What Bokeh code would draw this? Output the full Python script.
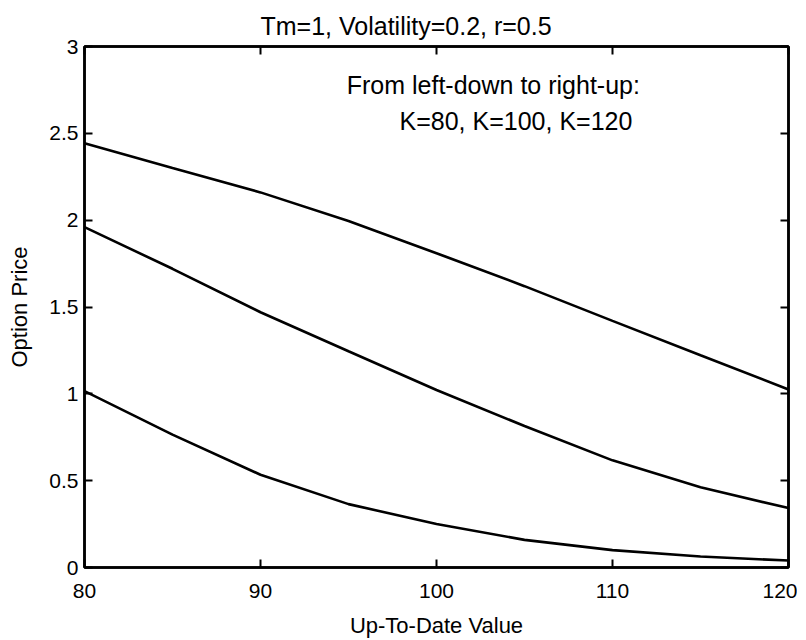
from bokeh.plotting import figure
from bokeh.models import LinearAxis, Range1d, Label, Title, FixedTicker
from bokeh.embed import file_html
from bokeh.resources import INLINE

# Data
x_vals = [80, 85, 90, 95, 100, 105, 110, 115, 120]
k80 = [1.016, 0.765, 0.534, 0.365, 0.250, 0.159, 0.100, 0.063, 0.040]
k100 = [1.960, 1.720, 1.470, 1.245, 1.022, 0.815, 0.617, 0.462, 0.342]
k120 = [2.443, 2.300, 2.160, 1.995, 1.810, 1.620, 1.420, 1.222, 1.025]
x_ticks = [80, 90, 100, 110, 120]
y_ticks = [0, 0.5, 1, 1.5, 2, 2.5, 3]

FONT = "Liberation Sans"

p = figure(frame_width=704, frame_height=521,
           x_range=Range1d(80, 120), y_range=Range1d(0, 3),
           output_backend="svg", toolbar_location=None,
           min_border_left=84, min_border_right=9,
           min_border_top=46, min_border_bottom=62)
p.title = None
p.grid.visible = False
p.outline_line_color = "black"
p.outline_line_width = 2.5
p.background_fill_color = "white"
p.border_fill_color = "white"

for ys in (k80, k100, k120):
    p.line(x_vals, ys, line_color="black", line_width=2.6)

def style(ax, show_labels=True):
    ax.axis_line_color = "black"
    ax.axis_line_width = 2.5
    ax.major_tick_in = 8
    ax.major_tick_out = 0
    ax.major_tick_line_width = 2
    ax.minor_tick_line_color = None
    ax.major_label_text_font = FONT
    ax.major_label_text_color = "black"
    ax.axis_label_text_font = FONT
    ax.axis_label_text_font_style = "normal"
    ax.axis_label_text_color = "black"
    ax.major_label_text_font_size = "21px"
    ax.axis_label_text_font_size = "22px"
    if not show_labels:
        ax.major_label_standoff = 0

p.xaxis.ticker = FixedTicker(ticks=x_ticks)
p.yaxis.ticker = FixedTicker(ticks=y_ticks)
p.yaxis.major_label_overrides = {0: "0", 0.5: "0.5", 1: "1", 1.5: "1.5", 2: "2", 2.5: "2.5", 3: "3"}
p.xaxis.axis_label = "Up-To-Date Value"
p.yaxis.axis_label = "Option Price"
style(p.xaxis[0])
style(p.yaxis[0])
p.xaxis.major_label_standoff = 16
p.yaxis.major_label_standoff = 6
p.xaxis.axis_label_standoff = 12
p.yaxis.axis_label_standoff = 14

top = LinearAxis(ticker=FixedTicker(ticks=x_ticks),
                 major_label_overrides={t: "" for t in x_ticks})
right = LinearAxis(ticker=FixedTicker(ticks=y_ticks),
                   major_label_overrides={t: "" for t in y_ticks})
style(top, False)
style(right, False)
p.add_layout(top, "above")
p.add_layout(right, "right")

t = Title(text="Tm=1, Volatility=0.2, r=0.5", align="left", offset=176,
          vertical_align="bottom",
          text_font=FONT, text_font_size="25px", text_font_style="normal",
          text_line_height=0.8,
          text_color="black", standoff=14)
p.add_layout(t, "above")

p.add_layout(Label(x=94.9, y=2.777, text="From left-down to right-up:",
                   text_font=FONT, text_font_size="25px", text_color="black",
                   text_baseline="middle"))
p.add_layout(Label(x=97.9, y=2.57, text="K=80, K=100, K=120",
                   text_font=FONT, text_font_size="25px", text_color="black",
                   text_baseline="middle"))

open("out.html", "w").write(file_html(p, INLINE))
